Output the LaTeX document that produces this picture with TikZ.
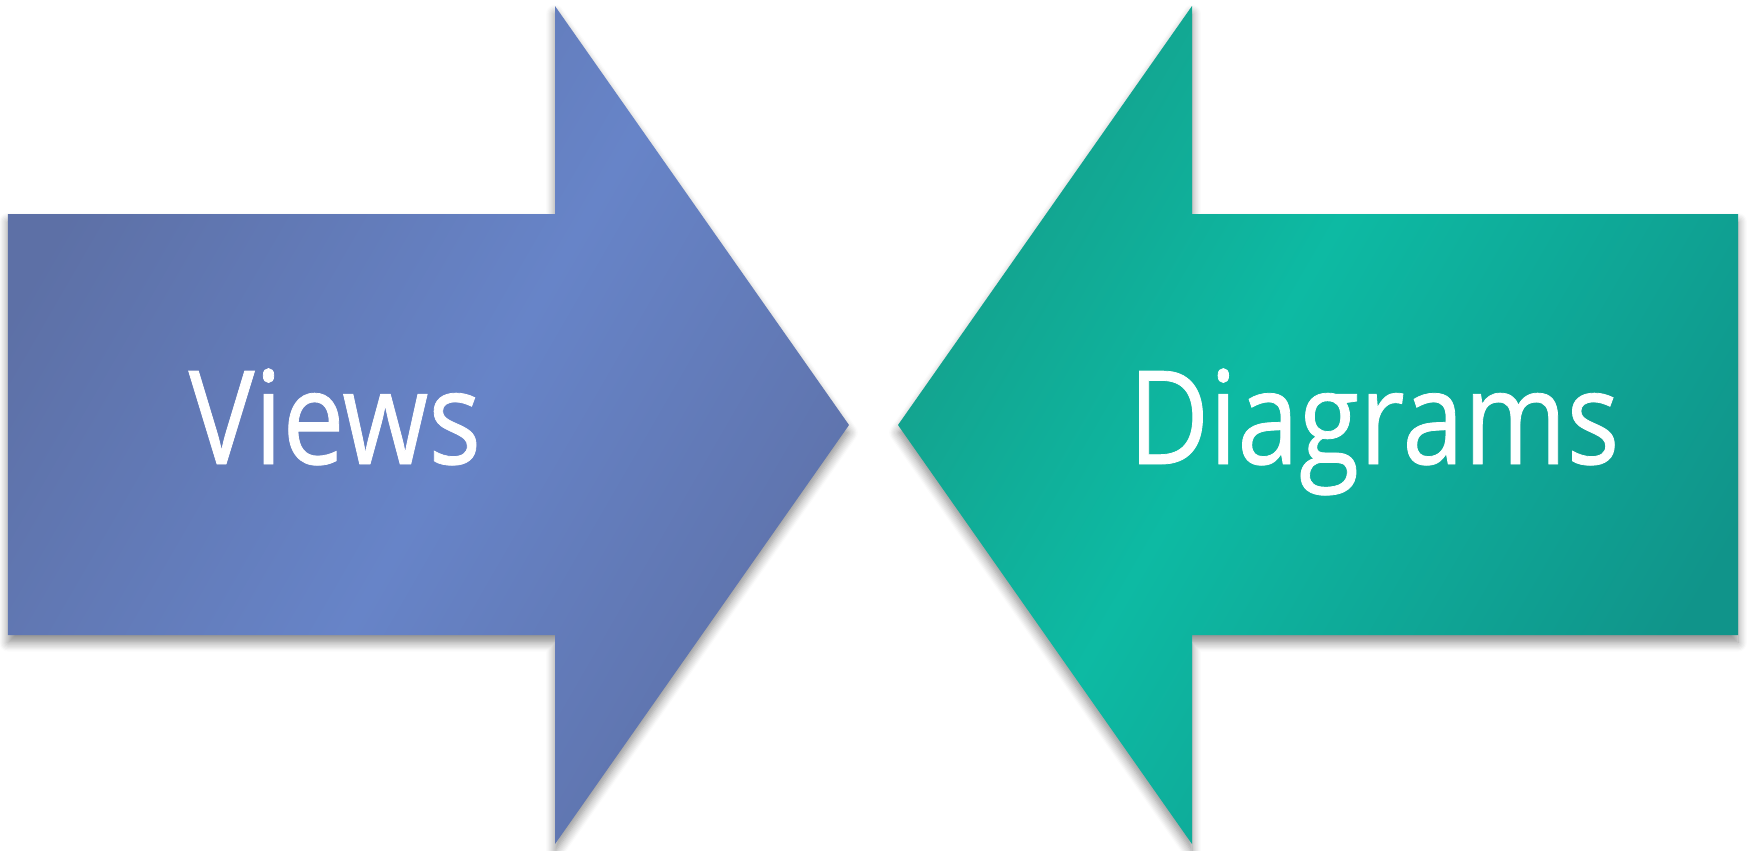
\documentclass[tikz,border=0pt]{standalone}
\usepackage{fontspec}
\usepackage{tikz}
\usetikzlibrary{shadows.blur}
\newfontfamily\arrowfont[FakeStretch=0.85,FakeBold=0.6]{Open Sans}

\definecolor{viewsdark}{HTML}{5D70A6}
\definecolor{viewslight}{HTML}{6784C8}
\definecolor{viewstip}{HTML}{5E72AA}
\definecolor{diagtip}{HTML}{14A08C}
\definecolor{diaglight}{HTML}{0DBAA3}
\definecolor{diagdark}{HTML}{10948A}

\pgfdeclarehorizontalshading{viewsshade}{100bp}{color(0bp)=(viewsdark); color(25bp)=(viewsdark);
  color(52bp)=(viewslight); color(75bp)=(viewstip); color(100bp)=(viewstip)}
\pgfdeclarehorizontalshading{diagshade}{100bp}{color(0bp)=(diagtip); color(25bp)=(diagtip);
  color(45bp)=(diaglight); color(75bp)=(diagdark); color(100bp)=(diagdark)}

\begin{document}
\begin{tikzpicture}[
  x=0.01cm, y=-0.01cm,
  bigarrow/.style={blur shadow={shadow xshift=0pt, shadow yshift=-2.2pt, shadow blur radius=2.5pt,
                   shadow blur steps=8, shadow opacity=45}},
  views/.style={bigarrow, shading=viewsshade, shading angle=-30},
  diag/.style={bigarrow, shading=diagshade, shading angle=-30},
  lbl/.style={text=white, inner sep=0pt, anchor=base west, font=\arrowfont\fontsize{37}{40}\selectfont},
]
\useasboundingbox (0,0) rectangle (1750,850);
% left arrow, pointing right
\path[views] (8,214) -- (555,214) -- (555,6) -- (849,425) -- (555,844) -- (555,635) -- (8,635) -- cycle;
% right arrow, pointing left
\path[diag] (1738,214) -- (1192,214) -- (1192,6) -- (898,425) -- (1192,844) -- (1192,635) -- (1738,635) -- cycle;
\node[lbl] (views) at (188,464) {Views};
\node[lbl] (diagrams) at (1128,464) {Diagrams};
\end{tikzpicture}
\end{document}
